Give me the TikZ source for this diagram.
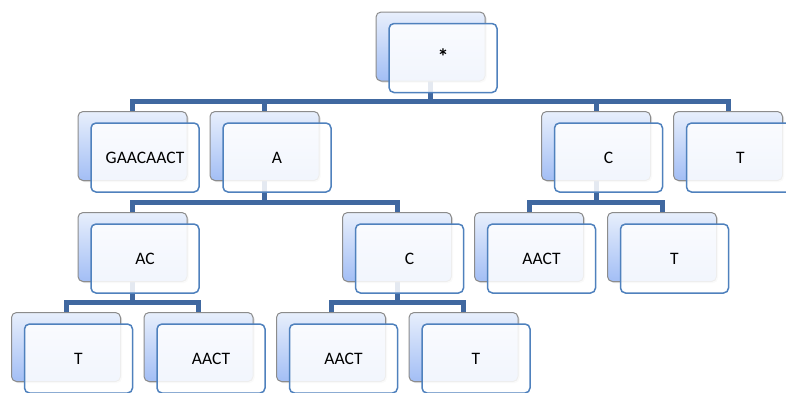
\documentclass[tikz,border=0pt]{standalone}
\usepackage{fontspec}
\setmainfont{Carlito}
\usetikzlibrary{shadows,calc}
\pgfdeclarelayer{background}
\pgfsetlayers{background,main}
\definecolor{connc}{RGB}{64,104,160}
\definecolor{frontc}{RGB}{79,129,189}
\definecolor{backtop}{RGB}{232,239,252}
\definecolor{backbot}{RGB}{162,190,245}
\definecolor{backedge}{RGB}{140,140,140}
\tikzset{
  backbox/.style={rectangle, rounded corners=5pt, minimum width=109pt, minimum height=69pt,
    inner sep=0pt, draw=backedge, line width=1pt, top color=backtop, bottom color=backbot,
    drop shadow={shadow xshift=1.5pt, shadow yshift=-1.5pt, opacity=0.25}},
  frontbox/.style={rectangle, rounded corners=5pt, minimum width=108pt, minimum height=69pt,
    inner sep=0pt, draw=frontc, line width=1.5pt, fill=white, fill opacity=0.86, text opacity=1,
    font=\fontsize{17.5}{20}\selectfont},
  conn/.style={draw=connc, line width=5pt, line join=miter}
}
\newcommand{\treebox}[4]{%
  \node[backbox] (#1b) at (#2,-#3) {};
  \node[frontbox] (#1) at ($(#1b.center)+(12.5,-11.5)$) {#4};
}
\begin{document}
\begin{tikzpicture}[x=1pt,y=1pt]
\useasboundingbox (0,0) rectangle (786,-392);
\begin{scope}
\clip (0,0) rectangle (786,-392);
\treebox{r}{430.5}{46.5}{\raisebox{3pt}{\fontsize{22}{24}\selectfont\bfseries *}}
\treebox{a}{132.5}{146}{GAACAACT}
\treebox{b}{264.5}{146}{A}
\treebox{c}{596}{146}{C}
\treebox{d}{728}{146}{T}
\treebox{ba}{132.5}{247}{AC}
\treebox{bc}{397}{247}{C}
\treebox{ca}{529}{247}{AACT}
\treebox{ct}{662}{247}{T}
\treebox{bat}{66}{347}{T}
\treebox{baa}{198.5}{347}{AACT}
\treebox{bca}{331}{347}{AACT}
\treebox{bct}{463.5}{347}{T}
\begin{pgfonlayer}{background}
\foreach \p/\c in {r/a, r/b, r/c, r/d, b/ba, b/bc, c/ca, c/ct, ba/bat, ba/baa, bc/bca, bc/bct}{
  \draw[conn] (\p b.center) |- ([yshift=10pt]\c b.north) -| (\c b.center);
}
\end{pgfonlayer}
\end{scope}
\end{tikzpicture}
\end{document}
